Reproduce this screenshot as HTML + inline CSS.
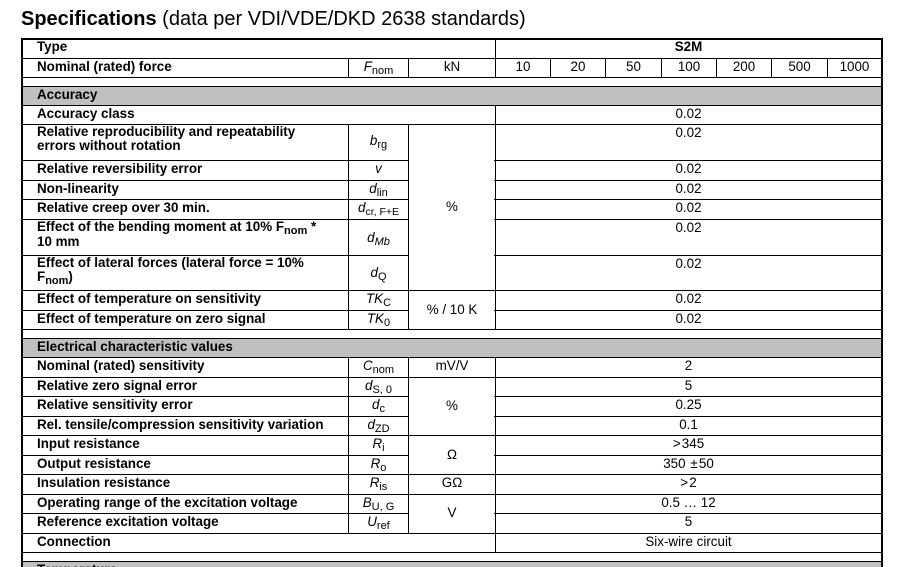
<!DOCTYPE html>
<html><head><meta charset="utf-8">
<style>
html,body{margin:0;padding:0;background:#fff;width:904px;height:567px;overflow:hidden;}
#w{position:absolute;left:0;top:0;width:904px;height:567px;overflow:hidden;font-family:"Liberation Sans",Arial,sans-serif;color:#000;background:#fff;}
.h{position:absolute;height:1px;background:#000;}
.v{position:absolute;width:1px;background:#000;}
.g{position:absolute;background:#c0c0c0;}
.t{position:absolute;white-space:nowrap;font-size:13.4px;line-height:15px;}
.b{font-weight:bold;}
.l{left:37px;}
.val{left:496px;width:385px;text-align:center;}
.sym{left:349px;width:59px;text-align:center;}
.sym i{font-style:italic;}
.unit{left:409px;width:86px;text-align:center;}
.s{font-size:11px;position:relative;top:3px;}
.ml{line-height:14.4px;}
.title{position:absolute;left:21px;top:9px;font-size:20px;line-height:20px;white-space:nowrap;}
</style></head><body>
<div id="w">
<div class="title"><b>Specifications</b> (data per VDI/VDE/DKD 2638 standards)</div>

<!-- gray rows -->
<div class="g" style="left:23px;width:858px;top:87px;height:18px"></div>
<div class="g" style="left:23px;width:858px;top:339px;height:18px"></div>
<div class="g" style="left:23px;width:858px;top:562px;height:5px"></div>

<!-- outer borders -->
<div class="h" style="left:21px;width:862px;top:38px;height:2px"></div>
<div class="v" style="left:21px;width:2px;top:38px;height:529px"></div>
<div class="v" style="left:881px;width:2px;top:38px;height:529px"></div>

<!-- full horizontal lines -->
<div class="h" style="left:21px;width:862px;top:58px"></div>
<div class="h" style="left:21px;width:862px;top:77px"></div>
<div class="h" style="left:21px;width:862px;top:86px"></div>
<div class="h" style="left:21px;width:862px;top:105px"></div>
<div class="h" style="left:21px;width:862px;top:124px"></div>
<div class="h" style="left:21px;width:862px;top:290px"></div>
<div class="h" style="left:21px;width:862px;top:329px"></div>
<div class="h" style="left:21px;width:862px;top:338px"></div>
<div class="h" style="left:21px;width:862px;top:357px"></div>
<div class="h" style="left:21px;width:862px;top:377px"></div>
<div class="h" style="left:21px;width:862px;top:435px"></div>
<div class="h" style="left:21px;width:862px;top:474px"></div>
<div class="h" style="left:21px;width:862px;top:494px"></div>
<div class="h" style="left:21px;width:862px;top:533px"></div>
<div class="h" style="left:21px;width:862px;top:552px"></div>
<div class="h" style="left:21px;width:862px;top:561px"></div>

<!-- partial horizontal lines (skip unit column) -->
<div class="h" style="left:21px;width:388px;top:160px"></div><div class="h" style="left:494px;width:389px;top:160px"></div>
<div class="h" style="left:21px;width:388px;top:180px"></div><div class="h" style="left:494px;width:389px;top:180px"></div>
<div class="h" style="left:21px;width:388px;top:199px"></div><div class="h" style="left:494px;width:389px;top:199px"></div>
<div class="h" style="left:21px;width:388px;top:219px"></div><div class="h" style="left:494px;width:389px;top:219px"></div>
<div class="h" style="left:21px;width:388px;top:255px"></div><div class="h" style="left:494px;width:389px;top:255px"></div>
<div class="h" style="left:21px;width:388px;top:310px"></div><div class="h" style="left:494px;width:389px;top:310px"></div>
<div class="h" style="left:21px;width:388px;top:396px"></div><div class="h" style="left:494px;width:389px;top:396px"></div>
<div class="h" style="left:21px;width:388px;top:416px"></div><div class="h" style="left:494px;width:389px;top:416px"></div>
<div class="h" style="left:21px;width:388px;top:455px"></div><div class="h" style="left:494px;width:389px;top:455px"></div>
<div class="h" style="left:21px;width:388px;top:513px"></div><div class="h" style="left:494px;width:389px;top:513px"></div>

<!-- vertical lines -->
<div class="v" style="left:348px;top:58px;height:19px"></div>
<div class="v" style="left:348px;top:124px;height:205px"></div>
<div class="v" style="left:348px;top:357px;height:176px"></div>
<div class="v" style="left:408px;top:58px;height:19px"></div>
<div class="v" style="left:408px;top:124px;height:205px"></div>
<div class="v" style="left:408px;top:357px;height:176px"></div>
<div class="v" style="left:495px;top:38px;height:39px"></div>
<div class="v" style="left:495px;top:105px;height:224px"></div>
<div class="v" style="left:495px;top:357px;height:195px"></div>
<div class="v" style="left:550px;top:58px;height:19px"></div>
<div class="v" style="left:605px;top:58px;height:19px"></div>
<div class="v" style="left:661px;top:58px;height:19px"></div>
<div class="v" style="left:716px;top:58px;height:19px"></div>
<div class="v" style="left:771px;top:58px;height:19px"></div>
<div class="v" style="left:827px;top:58px;height:19px"></div>

<!-- labels -->
<div class="t b l" style="top:39px">Type</div>
<div class="t b l" style="top:59px">Nominal (rated) force</div>
<div class="t b l" style="top:87px">Accuracy</div>
<div class="t b l" style="top:106px">Accuracy class</div>
<div class="t b l ml" style="top:125px">Relative reproducibility and repeatability<br>errors without rotation</div>
<div class="t b l" style="top:161px">Relative reversibility error</div>
<div class="t b l" style="top:181px">Non-linearity</div>
<div class="t b l" style="top:200px">Relative creep over 30 min.</div>
<div class="t b l ml" style="top:220px">Effect of the bending moment at 10% F<span class="s">nom</span> *<br>10 mm</div>
<div class="t b l ml" style="top:256px">Effect of lateral forces (lateral force = 10%<br>F<span class="s">nom</span>)</div>
<div class="t b l" style="top:291px">Effect of temperature on sensitivity</div>
<div class="t b l" style="top:311px">Effect of temperature on zero signal</div>
<div class="t b l" style="top:339px">Electrical characteristic values</div>
<div class="t b l" style="top:358px">Nominal (rated) sensitivity</div>
<div class="t b l" style="top:378px">Relative zero signal error</div>
<div class="t b l" style="top:397px">Relative sensitivity error</div>
<div class="t b l" style="top:417px">Rel. tensile/compression sensitivity variation</div>
<div class="t b l" style="top:436px">Input resistance</div>
<div class="t b l" style="top:456px">Output resistance</div>
<div class="t b l" style="top:475px">Insulation resistance</div>
<div class="t b l" style="top:495px">Operating range of the excitation voltage</div>
<div class="t b l" style="top:514px">Reference excitation voltage</div>
<div class="t b l" style="top:534px">Connection</div>
<div class="t b l" style="top:562px">Temperature</div>

<!-- symbols -->
<div class="t sym" style="top:59px"><i>F</i><span class="s">nom</span></div>
<div class="t sym" style="top:133px"><i>b</i><span class="s">rg</span></div>
<div class="t sym" style="top:161px"><i>v</i></div>
<div class="t sym" style="top:181px"><i>d</i><span class="s">lin</span></div>
<div class="t sym" style="top:200px"><i>d</i><span class="s" style="font-size:10.5px">cr, F+E</span></div>
<div class="t sym" style="top:230px"><i>d</i><span class="s"><i>Mb</i></span></div>
<div class="t sym" style="top:265px"><i>d</i><span class="s">Q</span></div>
<div class="t sym" style="top:291px"><i>TK</i><span class="s">C</span></div>
<div class="t sym" style="top:311px"><i>TK</i><span class="s">0</span></div>
<div class="t sym" style="top:358px"><i>C</i><span class="s">nom</span></div>
<div class="t sym" style="top:378px"><i>d</i><span class="s">S, 0</span></div>
<div class="t sym" style="top:397px"><i>d</i><span class="s">c</span></div>
<div class="t sym" style="top:417px"><i>d</i><span class="s">ZD</span></div>
<div class="t sym" style="top:436px"><i>R</i><span class="s">i</span></div>
<div class="t sym" style="top:456px"><i>R</i><span class="s">o</span></div>
<div class="t sym" style="top:475px"><i>R</i><span class="s">is</span></div>
<div class="t sym" style="top:495px"><i>B</i><span class="s">U, G</span></div>
<div class="t sym" style="top:514px"><i>U</i><span class="s">ref</span></div>

<!-- units -->
<div class="t unit" style="top:59px">kN</div>
<div class="t unit" style="top:199px">%</div>
<div class="t unit" style="top:302px">% / 10 K</div>
<div class="t unit" style="top:358px">mV/V</div>
<div class="t unit" style="top:398px">%</div>
<div class="t unit" style="top:447px">&Omega;</div>
<div class="t unit" style="top:475px">G&Omega;</div>
<div class="t unit" style="top:505px">V</div>

<!-- values -->
<div class="t val b" style="top:39px">S2M</div>
<div class="t" style="top:59px;left:496px;width:54px;text-align:center">10</div>
<div class="t" style="top:59px;left:551px;width:54px;text-align:center">20</div>
<div class="t" style="top:59px;left:606px;width:55px;text-align:center">50</div>
<div class="t" style="top:59px;left:662px;width:54px;text-align:center">100</div>
<div class="t" style="top:59px;left:717px;width:54px;text-align:center">200</div>
<div class="t" style="top:59px;left:772px;width:55px;text-align:center">500</div>
<div class="t" style="top:59px;left:828px;width:53px;text-align:center">1000</div>

<div class="t val" style="top:106px">0.02</div>
<div class="t val" style="top:125px">0.02</div>
<div class="t val" style="top:161px">0.02</div>
<div class="t val" style="top:181px">0.02</div>
<div class="t val" style="top:200px">0.02</div>
<div class="t val" style="top:220px">0.02</div>
<div class="t val" style="top:256px">0.02</div>
<div class="t val" style="top:291px">0.02</div>
<div class="t val" style="top:311px">0.02</div>
<div class="t val" style="top:358px">2</div>
<div class="t val" style="top:378px">5</div>
<div class="t val" style="top:397px">0.25</div>
<div class="t val" style="top:417px">0.1</div>
<div class="t val" style="top:436px">&gt;&#8202;345</div>
<div class="t val" style="top:456px">350 &#8202;&plusmn;&#8202;50</div>
<div class="t val" style="top:475px">&gt;&#8202;2</div>
<div class="t val" style="top:495px">0.5 &hellip; 12</div>
<div class="t val" style="top:514px">5</div>
<div class="t val" style="top:534px">Six-wire circuit</div>
</div>
</body></html>
